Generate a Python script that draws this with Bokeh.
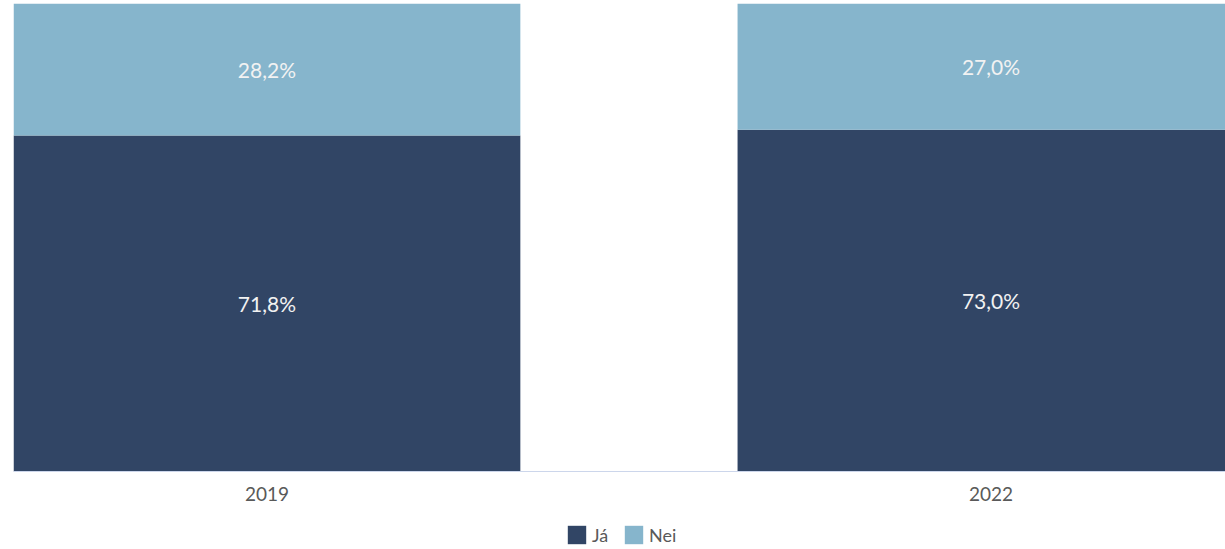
from bokeh.plotting import figure
from bokeh.models import Range1d, FixedTicker, Legend, LegendItem, ColumnDataSource
from bokeh.core.properties import value
from bokeh.embed import file_html
from bokeh.resources import INLINE

years = ["2019", "2022"]
ja = [71.8, 73.0]
nei = [28.2, 27.0]
ja_labels = ["71,8%", "73,0%"]
nei_labels = ["28,2%", "27,0%"]

DARK = "#314565"
LIGHT = "#86b5cc"
FONT = "Lato"

xs = list(range(len(years)))
src = ColumnDataSource(dict(
    x=xs,
    ja=ja,
    nei_top=[a + b for a, b in zip(ja, nei)],
    ja_mid=[a / 2 for a in ja],
    nei_mid=[a + b / 2 for a, b in zip(ja, nei)],
    ja_lab=ja_labels,
    nei_lab=nei_labels,
))

# frame covers the whole lower area; the value axis 0..100 spans the top 468 px
p = figure(frame_width=1212, frame_height=546,
           x_range=Range1d(-0.35, 1.3239), y_range=Range1d(-16.667, 100),
           output_backend="svg", toolbar_location=None,
           y_axis_location=None,
           min_border_left=13, min_border_right=0, min_border_top=3, min_border_bottom=0)
p.outline_line_color = None
p.xgrid.visible = False
p.ygrid.visible = False
p.background_fill_color = "white"
p.border_fill_color = "white"

r_ja = p.vbar(x="x", width=0.7, bottom=0, top="ja", source=src,
              fill_color=DARK, line_color=None)
r_nei = p.vbar(x="x", width=0.7, bottom="ja", top="nei_top", source=src,
               fill_color=LIGHT, line_color=None)

for ycol, tcol in (("ja_mid", "ja_lab"), ("nei_mid", "nei_lab")):
    p.text(x="x", y=ycol, text=tcol, source=src,
           text_align="center", text_baseline="middle",
           text_font=value(FONT), text_font_size="21px", text_color="#f2f2f2")

ax = p.xaxis[0]
ax.fixed_location = 0
ax.ticker = FixedTicker(ticks=xs)
ax.major_label_overrides = {i: y for i, y in enumerate(years)}
ax.axis_line_color = "#ccd6eb"
ax.major_tick_line_color = None
ax.minor_tick_line_color = None
ax.major_tick_out = 0
ax.major_label_text_font = FONT
ax.major_label_text_font_size = "19px"
ax.major_label_text_color = "#595959"
ax.major_label_standoff = 16

legend = Legend(items=[LegendItem(label="Já", renderers=[r_ja]),
                       LegendItem(label="Nei", renderers=[r_nei])],
                orientation="horizontal", location=(552, 3),
                border_line_color=None, background_fill_alpha=0,
                glyph_width=23, glyph_height=23, label_height=23,
                label_standoff=4, spacing=10, padding=0, margin=0,
                label_text_font=FONT, label_text_font_size="18px",
                label_text_color="#595959")
p.add_layout(legend, "center")

open("out.html", "w").write(file_html(p, INLINE))
